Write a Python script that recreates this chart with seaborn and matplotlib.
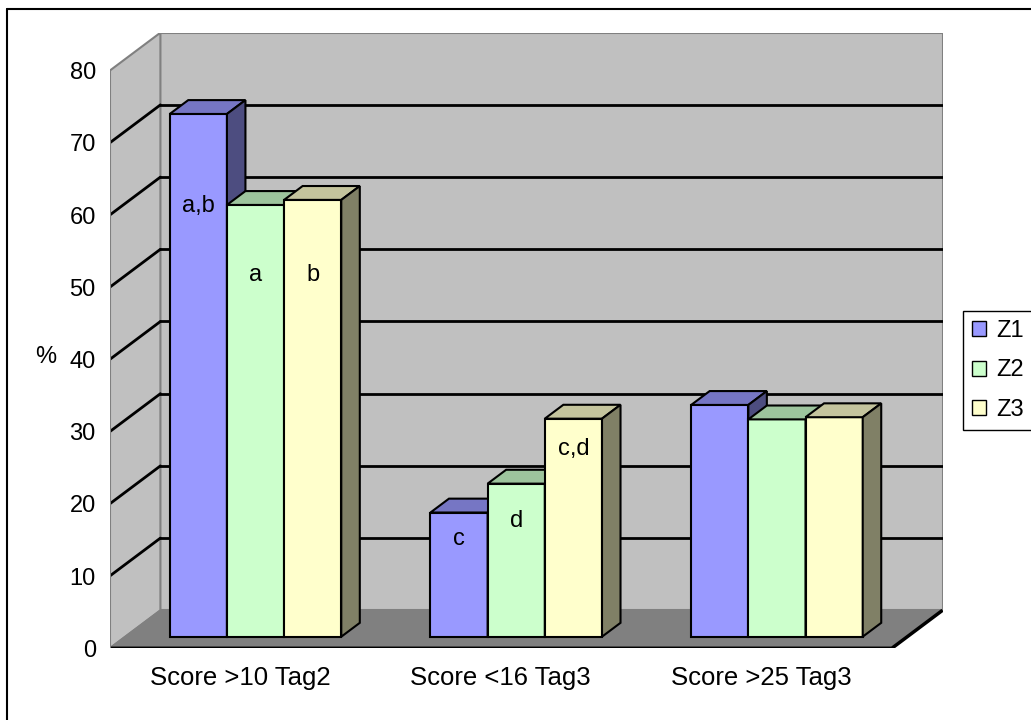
import numpy as np
import pandas as pd
import matplotlib
matplotlib.use("Agg")
import matplotlib.pyplot as plt
from matplotlib.patches import Polygon, Patch
from matplotlib.lines import Line2D
from matplotlib.colors import to_rgb
import seaborn as sns

# ---- data -----------------------------------------------------------------
categories = ["Score >10 Tag2", "Score <16 Tag3", "Score >25 Tag3"]
zones = ["Z1", "Z2", "Z3"]
z1_values = [72.4, 17.2, 32.1]
z2_values = [59.8, 21.2, 30.1]
z3_values = [60.5, 30.2, 30.4]
y_ticks = [0, 10, 20, 30, 40, 50, 60, 70, 80]
y_label = "%"
# significance letters: (category index, zone index, text, baseline height)
letters = [
    (0, 0, "a,b", 58.8),
    (0, 1, "a", 49.2),
    (0, 2, "b", 49.2),
    (1, 0, "c", 12.7),
    (1, 1, "d", 15.2),
    (1, 2, "c,d", 25.2),
]

zone_colors = ["#9999FF", "#CCFFCC", "#FFFFCC"]

# ---- pseudo-3D projection settings ----------------------------------------
DEPTH_DX = 0.1945      # x shift (category units) for the full floor depth
DEPTH_DY = 5.263       # y shift (value units) for the full floor depth
BAR_FRONT = 0.305      # depth fraction where bar front faces sit
BAR_BACK = 0.67        # depth fraction where bar back faces sit
Y_MAX = 80
FS = 17
FS_CAT = 18.5

df = pd.DataFrame({
    "category": np.repeat(categories, len(zones)),
    "zone": zones * len(categories),
    "value": np.column_stack([z1_values, z2_values, z3_values]).ravel(),
})

sns.set_style("white")
plt.rcParams["font.family"] = ["Liberation Sans", "DejaVu Sans"]
plt.rcParams["text.color"] = "black"
plt.rcParams["xtick.labelcolor"] = "black"
plt.rcParams["ytick.labelcolor"] = "black"

fig = plt.figure(figsize=(10.31, 7.2), dpi=100)
ax = fig.add_axes([0.1064, 0.0996, 0.8078, 0.8550])

sns.barplot(data=df, x="category", y="value", hue="zone",
            order=categories, hue_order=zones, palette=zone_colors,
            saturation=1, width=0.658, gap=0, errorbar=None,
            edgecolor="black", linewidth=1.5, legend=False, ax=ax)

x_lo, x_hi = -0.5, len(categories) - 0.5
ax.set_xlim(x_lo, x_hi + DEPTH_DX)
ax.set_ylim(0, Y_MAX + DEPTH_DY)
ax.patch.set_visible(False)
for s in ax.spines.values():
    s.set_visible(False)

wall = "#C0C0C0"
edge = "#808080"

# back wall
ax.add_patch(Polygon([(x_lo + DEPTH_DX, DEPTH_DY), (x_hi + DEPTH_DX, DEPTH_DY),
                      (x_hi + DEPTH_DX, Y_MAX + DEPTH_DY), (x_lo + DEPTH_DX, Y_MAX + DEPTH_DY)],
                     closed=True, facecolor=wall, edgecolor=edge, lw=1.5, zorder=0.5))
# left wall
ax.add_patch(Polygon([(x_lo, 0), (x_lo, Y_MAX), (x_lo + DEPTH_DX, Y_MAX + DEPTH_DY),
                      (x_lo + DEPTH_DX, DEPTH_DY)],
                     closed=True, facecolor=wall, edgecolor=edge, lw=1.5, zorder=0.6))
# floor
ax.add_patch(Polygon([(x_lo, 0), (x_hi, 0), (x_hi + DEPTH_DX, DEPTH_DY), (x_lo + DEPTH_DX, DEPTH_DY)],
                     closed=True, facecolor="#808080", edgecolor=edge, lw=1.2, zorder=0.7))
ax.plot([x_lo, x_hi, x_hi + DEPTH_DX], [0, 0, DEPTH_DY], color="black", lw=2.5,
        solid_capstyle="butt", zorder=0.8)

# gridlines on back and left walls
for v in y_ticks[1:-1]:
    ax.plot([x_lo + DEPTH_DX, x_hi + DEPTH_DX], [v + DEPTH_DY, v + DEPTH_DY],
            color="black", lw=2, zorder=0.9)
    ax.plot([x_lo, x_lo + DEPTH_DX], [v, v + DEPTH_DY], color="black", lw=2, zorder=0.9)

# move the front faces back into the floor and add top / side faces
fdx, fdy = BAR_FRONT * DEPTH_DX, BAR_FRONT * DEPTH_DY
bdx, bdy = (BAR_BACK - BAR_FRONT) * DEPTH_DX, (BAR_BACK - BAR_FRONT) * DEPTH_DY
face_pos = {}
for zi, cont in enumerate(ax.containers):
    rgb = np.array(to_rgb(zone_colors[zi]))
    top_c, side_c = rgb * 0.77, rgb * 0.5
    for ci, bar in enumerate(cont.patches):
        x = bar.get_x() + fdx
        w = bar.get_width()
        h = bar.get_height()
        y0 = fdy
        bar.set_x(x)
        bar.set_y(y0)
        bar.set_zorder(10 + zi)
        ax.add_patch(Polygon([(x, y0 + h), (x + w, y0 + h), (x + w + bdx, y0 + h + bdy),
                              (x + bdx, y0 + h + bdy)], closed=True, facecolor=top_c,
                             edgecolor="black", lw=1.5, zorder=10 + zi))
        ax.add_patch(Polygon([(x + w, y0), (x + w, y0 + h), (x + w + bdx, y0 + h + bdy),
                              (x + w + bdx, y0 + bdy)], closed=True, facecolor=side_c,
                             edgecolor="black", lw=1.5, zorder=10 + zi))
        face_pos[(ci, zi)] = (x + w / 2, y0)

for ci, zi, txt, v in letters:
    cx, y0 = face_pos[(ci, zi)]
    ax.text(cx, y0 + v, txt, ha="center", va="baseline", fontsize=FS, color="black", zorder=20)

# axes: value axis on the front-left edge, category axis on the front floor edge
ax.plot([x_lo, x_lo], [0, Y_MAX], color=edge, lw=1.5, zorder=0.95)
ax.set_yticks(y_ticks)
ax.set_yticklabels([str(t) for t in y_ticks])
ax.tick_params(axis="y", length=6, width=1, color="#404040", pad=4, labelsize=FS,
               labelcolor="black")
ax.set_xticks(range(len(categories)))
ax.set_xticklabels(categories)
ax.set_xticks(np.arange(x_lo, x_hi + 0.01, 1.0), minor=True)
ax.tick_params(axis="x", which="major", length=0, pad=12.5, labelsize=FS_CAT,
               labelcolor="black")
ax.tick_params(axis="x", which="minor", length=7, width=1, color="black")
ax.set_xlabel("")
ax.set_ylabel("")

fig.text(46 / 1031, 1 - 357 / 720, y_label, ha="center", va="center", fontsize=FS,
         color="black")

handles = [Patch(facecolor=c, edgecolor="black", lw=1) for c in zone_colors]
fig.legend(handles, zones, loc="upper left", bbox_to_anchor=(962.7 / 1031, 1 - 310.5 / 720),
           borderaxespad=0, frameon=True, fancybox=False, edgecolor="black", framealpha=1,
           handlelength=0.6, handleheight=0.6, handletextpad=0.4, labelspacing=0.74,
           borderpad=0.4, fontsize=FS, labelcolor="black")

# chart area border
fig.add_artist(Line2D([7 / 1031, 7 / 1031], [0, 1 - 9 / 720], transform=fig.transFigure,
                      color="black", lw=1.5))
fig.add_artist(Line2D([7 / 1031, 1], [1 - 9 / 720, 1 - 9 / 720], transform=fig.transFigure,
                      color="black", lw=1.5))

fig.savefig("out.png", dpi=100)
